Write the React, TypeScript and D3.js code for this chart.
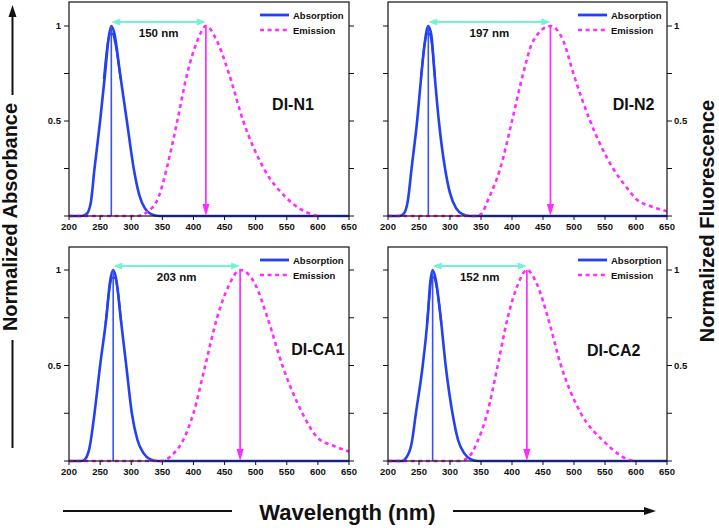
import React from "react";
import * as d3 from "d3";

// ---------- data ----------
const wavelengthTicks = [200, 250, 300, 350, 400, 450, 500, 550, 600, 650];
const yTicks = [0, 0.25, 0.5, 0.75, 1];
const yTickLabels = [0.5, 1];

const panelNames = ["DI-N1", "DI-N2", "DI-CA1", "DI-CA2"];
const absPeaks = [268, 265, 271, 272];
const emPeaks = [420, 462, 475, 424];
const shiftLabels = ["150 nm", "197 nm", "203 nm", "152 nm"];
const legendLabels = ["Absorption", "Emission"];

const absN1: [number, number][] = [[200, 0], [220, 0], [228, 0.01], [235, 0.07], [241, 0.25], [245, 0.36], [250, 0.5], [258, 0.75], [263, 0.92], [268, 1.0], [273, 0.96], [282, 0.75], [293, 0.5], [304, 0.25], [313, 0.11], [322, 0.04], [332, 0.01], [345, 0], [650, 0]];
const absN2: [number, number][] = [[200, 0], [218, 0], [225, 0.01], [232, 0.08], [238, 0.25], [247, 0.5], [254, 0.75], [260, 0.93], [265, 1.0], [270, 0.95], [275, 0.75], [282, 0.5], [292, 0.25], [300, 0.12], [310, 0.04], [320, 0.01], [332, 0], [650, 0]];
const absCA1: [number, number][] = [[200, 0], [220, 0], [226, 0.01], [233, 0.07], [241, 0.25], [250, 0.5], [260, 0.75], [266, 0.94], [271, 1.0], [276, 0.95], [283, 0.75], [292, 0.5], [301, 0.25], [310, 0.11], [320, 0.04], [330, 0.01], [342, 0], [650, 0]];
const absCA2: [number, number][] = [[200, 0], [222, 0], [230, 0.02], [238, 0.09], [245, 0.25], [256, 0.5], [264, 0.75], [268, 0.93], [272, 1.0], [277, 0.95], [285, 0.75], [293, 0.5], [304, 0.25], [313, 0.11], [323, 0.04], [333, 0.01], [345, 0], [650, 0]];

// inner (second) absorption trace near the maximum
const absN1b: [number, number][] = [[256, 0.72], [262, 0.9], [266, 0.96], [270, 0.96], [275, 0.9], [283, 0.72]];
const absN2b: [number, number][] = [[253, 0.72], [259, 0.9], [263, 0.96], [267, 0.96], [271, 0.9], [276, 0.72]];
const absCA1b: [number, number][] = [[259, 0.72], [265, 0.9], [269, 0.96], [273, 0.96], [278, 0.9], [284, 0.72]];
const absCA2b: [number, number][] = [[263, 0.72], [268, 0.9], [270, 0.96], [274, 0.96], [279, 0.9], [286, 0.72]];

const emN1: [number, number][] = [[200, 0], [310, 0], [325, 0.02], [344, 0.1], [357, 0.25], [374, 0.5], [390, 0.75], [406, 0.92], [420, 1.0], [438, 0.92], [457, 0.75], [480, 0.5], [513, 0.25], [548, 0.1], [570, 0.04], [589, 0.01], [600, 0]];
const emN2: [number, number][] = [[200, 0], [340, 0], [350, 0.01], [362, 0.09], [381, 0.25], [400, 0.5], [418, 0.75], [434, 0.92], [462, 1.0], [483, 0.92], [499, 0.75], [526, 0.5], [563, 0.25], [585, 0.15], [600, 0.09], [625, 0.05], [650, 0.025]];
const emCA1: [number, number][] = [[200, 0], [350, 0], [365, 0.03], [382, 0.1], [400, 0.25], [419, 0.5], [438, 0.75], [457, 0.92], [475, 1.0], [500, 0.92], [519, 0.75], [543, 0.5], [575, 0.25], [600, 0.12], [625, 0.08], [650, 0.05]];
const emCA2: [number, number][] = [[200, 0], [315, 0], [330, 0.02], [344, 0.1], [360, 0.25], [377, 0.5], [393, 0.75], [409, 0.92], [424, 1.0], [441, 0.92], [458, 0.75], [479, 0.5], [511, 0.25], [549, 0.1], [570, 0.04], [585, 0.01], [600, 0]];

const absData = [absN1, absN2, absCA1, absCA2];
const absInner = [absN1b, absN2b, absCA1b, absCA2b];
const emData = [emN1, emN2, emCA1, emCA2];

// ---------- layout ----------
const W = 719;
const H = 528;
const FONT = "'Liberation Sans', Arial, Helvetica, sans-serif";
const BLUE = "#2340f2";
const MAGENTA = "#ff2cff";
const CYAN = "#72f2d6";

const layouts = [
  { x0: 69, x1: 349, yTop: 2, yZero: 216, yOne: 26, side: "left", nameX: 560, nameY: 0.56 },
  { x0: 388, x1: 667, yTop: 2, yZero: 216, yOne: 26, side: "right", nameX: 596, nameY: 0.56 },
  { x0: 69, x1: 349, yTop: 247, yZero: 461, yOne: 270, side: "left", nameX: 600, nameY: 0.555 },
  { x0: 388, x1: 667, yTop: 247, yZero: 461, yOne: 270, side: "right", nameX: 564, nameY: 0.55 },
];

function Panel({ i }: { i: number }) {
  const L = layouts[i];
  const x = d3.scaleLinear().domain([200, 650]).range([L.x0, L.x1]);
  const y = d3.scaleLinear().domain([0, 1]).range([L.yZero, L.yOne]);
  const line = d3
    .line<[number, number]>()
    .x((d) => x(d[0]))
    .y((d) => y(d[1]))
    .curve(d3.curveMonotoneX);

  const ap = x(absPeaks[i]);
  const ep = x(emPeaks[i]);
  const ay = y(1) - 4;
  const legX = L.x1 - 56;
  const legY1 = L.yTop + 13;
  const legY2 = L.yTop + 28;
  const tk = 5;

  return (
    <g>
      {/* curves */}
      <path d={line(absData[i]) || ""} fill="none" stroke={BLUE} strokeWidth={2.6} />
      <path d={line(absInner[i]) || ""} fill="none" stroke={BLUE} strokeWidth={2.2} />
      <line x1={ap} x2={ap} y1={y(0)} y2={y(1)} stroke="#3a52f5" strokeWidth={1.6} />
      <path d={line(emData[i]) || ""} fill="none" stroke={MAGENTA} strokeWidth={2.6} strokeDasharray="4 3.6" />

      {/* magenta arrow down */}
      <line x1={ep} x2={ep} y1={y(1)} y2={y(0) - 10} stroke={MAGENTA} strokeWidth={1.7} />
      <path d={`M${ep - 3.6},${y(0) - 12}L${ep + 3.6},${y(0) - 12}L${ep},${y(0)}Z`} fill={MAGENTA} />

      {/* cyan double arrow */}
      <line x1={ap + 6} x2={ep - 6} y1={ay} y2={ay} stroke={CYAN} strokeWidth={2.2} />
      <path d={`M${ap},${ay}L${ap + 9},${ay - 3.4}L${ap + 9},${ay + 3.4}Z`} fill={CYAN} />
      <path d={`M${ep},${ay}L${ep - 9},${ay - 3.4}L${ep - 9},${ay + 3.4}Z`} fill={CYAN} />
      <text x={(ap + ep) / 2} y={y(1) + 11} textAnchor="middle" fontFamily={FONT} fontWeight="bold" fontSize={11.5} fill="#111">
        {shiftLabels[i]}
      </text>

      {/* name */}
      <text x={x(L.nameX)} y={y(L.nameY)} textAnchor="middle" fontFamily={FONT} fontWeight="bold" fontSize={16} fill="#111">
        {panelNames[i]}
      </text>

      {/* legend */}
      <line x1={legX - 33} x2={legX - 4} y1={legY1} y2={legY1} stroke={BLUE} strokeWidth={2.8} />
      <line x1={legX - 33} x2={legX - 4} y1={legY2} y2={legY2} stroke={MAGENTA} strokeWidth={2.6} strokeDasharray="4 3.6" />
      <text x={legX} y={legY1 + 3.5} fontFamily={FONT} fontWeight="bold" fontSize={9.5} fill="#111">
        {legendLabels[0]}
      </text>
      <text x={legX} y={legY2 + 3.5} fontFamily={FONT} fontWeight="bold" fontSize={9.5} fill="#111">
        {legendLabels[1]}
      </text>

      {/* frame */}
      <rect x={L.x0} y={L.yTop} width={L.x1 - L.x0} height={L.yZero - L.yTop} fill="none" stroke="#111" strokeWidth={1.2} />

      {/* y ticks both sides */}
      {yTicks.map((t) => (
        <g key={"yt" + t}>
          <line x1={L.x0 - tk} x2={L.x0} y1={y(t)} y2={y(t)} stroke="#111" strokeWidth={1} />
          <line x1={L.x1} x2={L.x1 + tk} y1={y(t)} y2={y(t)} stroke="#111" strokeWidth={1} />
        </g>
      ))}
      {yTickLabels.map((t) => (
        <text
          key={"yl" + t}
          x={L.side === "left" ? L.x0 - 8 : L.x1 + 7}
          y={y(t) + 3.3}
          textAnchor={L.side === "left" ? "end" : "start"}
          fontFamily={FONT}
          fontWeight="bold"
          fontSize={9.5}
          fill="#111"
        >
          {t}
        </text>
      ))}

      {/* x ticks */}
      {wavelengthTicks.map((t) => (
        <g key={"xt" + t}>
          <line x1={x(t)} x2={x(t)} y1={L.yZero} y2={L.yZero + 4} stroke="#111" strokeWidth={1} />
          <text x={x(t)} y={L.yZero + 13.5} textAnchor="middle" fontFamily={FONT} fontWeight="bold" fontSize={9.5} fill="#111">
            {t}
          </text>
        </g>
      ))}
    </g>
  );
}

export default function App() {
  return (
    <div style={{ position: "fixed", left: 0, top: 0, width: W, height: H, background: "#fff" }}>
      <svg width={W} height={H} viewBox={`0 0 ${W} ${H}`} style={{ display: "block" }}>
        <rect x={0} y={0} width={W} height={H} fill="#fff" />
        {layouts.map((_, i) => (
          <Panel key={i} i={i} />
        ))}

        {/* left axis title with arrow */}
        <line x1={12.5} x2={12.5} y1={15} y2={95} stroke="#111" strokeWidth={2} />
        <path d="M12.5,5L8.5,17L16.5,17Z" fill="#111" />
        <text
          transform="translate(17,217) rotate(-90)"
          textAnchor="middle"
          fontFamily={FONT}
          fontWeight="bold"
          fontSize={20}
          fill="#111"
        >
          Normalized Absorbance
        </text>
        <line x1={12.5} x2={12.5} y1={340} y2={448} stroke="#111" strokeWidth={2} />

        {/* right axis title */}
        <text
          transform="translate(714,221) rotate(-90)"
          textAnchor="middle"
          fontFamily={FONT}
          fontWeight="bold"
          fontSize={20}
          fill="#111"
        >
          Normalized Fluorescence
        </text>

        {/* bottom axis title with arrow */}
        <line x1={63} x2={232} y1={511} y2={511} stroke="#111" strokeWidth={2} />
        <text x={347.5} y={520} textAnchor="middle" fontFamily={FONT} fontWeight="bold" fontSize={22} fill="#111">
          Wavelength (nm)
        </text>
        <line x1={453} x2={646} y1={511} y2={511} stroke="#111" strokeWidth={2} />
        <path d="M656,511L644,507L644,515Z" fill="#111" />
      </svg>
    </div>
  );
}
